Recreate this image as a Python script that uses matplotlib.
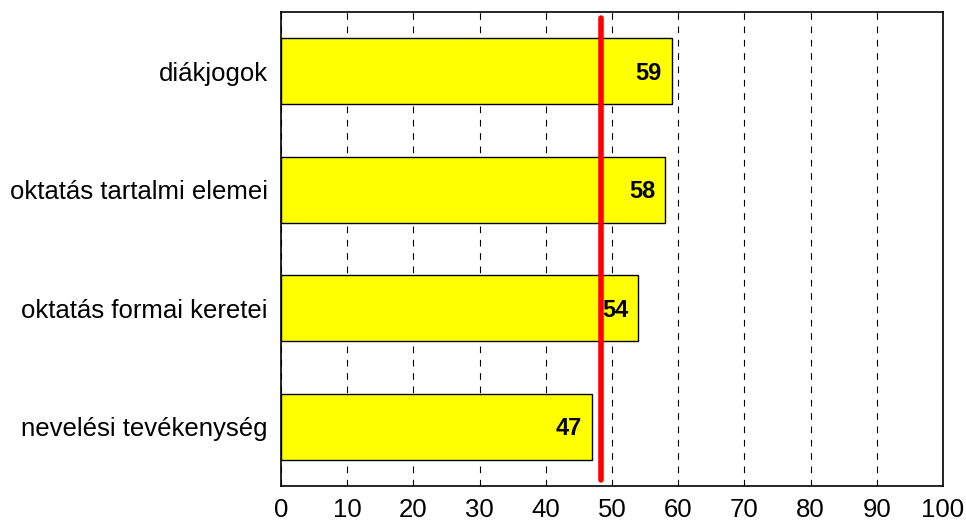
import matplotlib
matplotlib.use("Agg")
import matplotlib.pyplot as plt

categories = ["diákjogok", "oktatás tartalmi elemei", "oktatás formai keretei", "nevelési tevékenység"]
values = [59, 58, 54, 47]
reference = 48.4
xticks = [0, 10, 20, 30, 40, 50, 60, 70, 80, 90, 100]

plt.rcParams['font.family'] = ['Liberation Sans', 'DejaVu Sans']

fig = plt.figure(figsize=(9.66, 5.22), dpi=100)
ax = fig.add_axes([281/966, 1-486/522, (943-281)/966, (486-12)/522])

ypos = list(range(len(categories)))
ax.barh(ypos, values, height=0.557, color="#FFFF00", edgecolor="black", linewidth=1, zorder=2)
for y, v in zip(ypos, values):
    ax.text(v - 1.5, y + 0.015, str(v), ha="right", va="center", fontsize=17, fontweight="bold", zorder=4)

ax.plot([reference, reference], [-0.45, 3.45], color="#FF0000", linewidth=4, solid_capstyle="round", zorder=3)

ax.set_xlim(0, 100)
ax.set_ylim(3.5, -0.5)
ax.set_xticks(xticks)
ax.set_xticklabels([str(t) for t in xticks], fontsize=18.5)
ax.set_yticks(ypos)
ax.set_yticklabels(categories, fontsize=18.5)
ax.tick_params(axis="x", length=0, pad=8.5)
ax.tick_params(axis="y", length=0, pad=9.5)
ax.xaxis.grid(True, linestyle=(0, (6, 6)), color="black", linewidth=0.8, zorder=1)
ax.set_axisbelow(True)
for s in ax.spines.values():
    s.set_linewidth(1.2)

fig.savefig("out.png", dpi=100)
